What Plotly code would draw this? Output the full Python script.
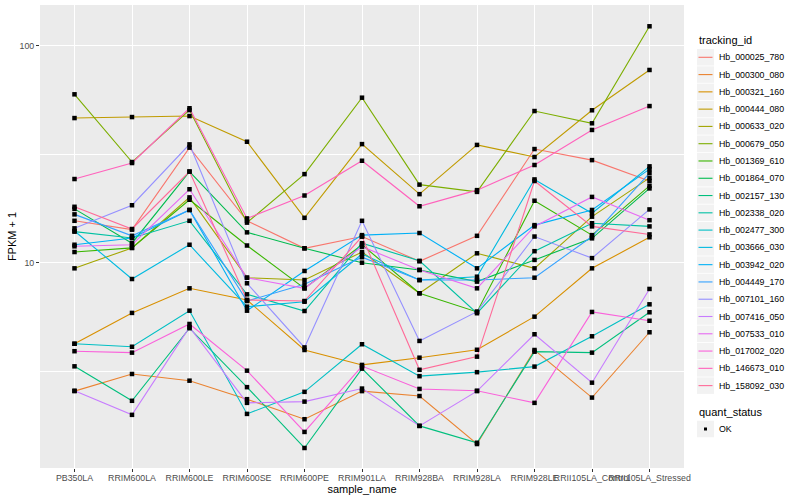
import math
import plotly.graph_objects as go

samples = ["PB350LA", "RRIM600LA", "RRIM600LE", "RRIM600SE", "RRIM600PE", "RRIM901LA",
           "RRIM928BA", "RRIM928LA", "RRIM928LE", "RRII105LA_Control", "RRII105LA_Stressed"]

ids = ["Hb_000025_780", "Hb_000300_080", "Hb_000321_160", "Hb_000444_080", "Hb_000633_020",
       "Hb_000679_050", "Hb_001369_610", "Hb_001864_070", "Hb_002157_130", "Hb_002338_020",
       "Hb_002477_300", "Hb_003666_030", "Hb_003942_020", "Hb_004449_170", "Hb_007101_160",
       "Hb_007416_050", "Hb_007533_010", "Hb_017002_020", "Hb_146673_010", "Hb_158092_030"]

Hb_000025_780 = [15.6, 14.2, 33.9, 15.6, 11.65, 13.2, 10.15, 13.3, 33.4, 29.7, 23.8]
Hb_000300_080 = [2.56, 3.07, 2.86, 2.35, 1.90, 2.56, 2.43, 1.46, 3.96, 2.39, 4.78]
Hb_000321_160 = [4.23, 5.87, 7.62, 6.73, 3.96, 3.38, 3.65, 3.97, 5.64, 9.42, 13.1]
Hb_000444_080 = [46.4, 46.9, 47.4, 36.1, 16.1, 35.2, 20.7, 34.9, 30.7, 50.4, 77.3]
Hb_000633_020 = [9.42, 11.7, 20.0, 8.53, 8.32, 11.2, 7.23, 11.05, 9.42, 16.3, 24.6]
Hb_000679_050 = [59.7, 29.1, 50.5, 15.3, 25.6, 57.6, 22.9, 21.2, 50.0, 43.9, 122.9]
Hb_001369_610 = [11.2, 11.7, 19.5, 12.0, 7.62, 12.1, 7.23, 5.93, 19.3, 13.4, 22.6]
Hb_001864_070 = [17.7, 12.3, 26.3, 13.8, 11.65, 10.0, 9.26, 8.18, 10.3, 12.95, 22.0]
Hb_002157_130 = [3.33, 2.31, 4.99, 2.67, 1.40, 3.25, 1.77, 1.48, 3.89, 3.85, 5.91]
Hb_002338_020 = [13.9, 13.0, 15.6, 7.15, 5.99, 12.3, 10.2, 5.85, 11.3, 15.2, 14.7]
Hb_002477_300 = [4.23, 4.10, 6.01, 2.01, 2.54, 4.21, 3.00, 3.13, 3.32, 4.58, 6.43]
Hb_003666_030 = [14.0, 8.41, 12.1, 6.27, 6.61, 10.97, 8.32, 8.62, 24.2, 16.9, 27.8]
Hb_003942_020 = [12.1, 13.0, 17.5, 6.01, 9.16, 13.4, 13.7, 9.42, 14.9, 17.5, 27.0]
Hb_004449_170 = [16.7, 13.3, 17.5, 6.66, 7.95, 10.6, 8.32, 8.32, 8.53, 13.2, 25.9]
Hb_007101_160 = [14.4, 18.4, 35.1, 8.04, 4.07, 15.6, 4.36, 5.95, 13.2, 10.5, 17.6]
Hb_007416_050 = [2.57, 1.99, 5.04, 2.26, 2.29, 2.63, 1.77, 2.56, 4.68, 2.80, 7.57]
Hb_007533_010 = [11.9, 12.1, 21.8, 8.53, 7.62, 11.85, 9.26, 7.62, 14.7, 20.1, 15.7]
Hb_017002_020 = [3.91, 3.85, 5.22, 3.18, 1.66, 3.34, 2.62, 2.57, 2.26, 5.93, 5.40]
Hb_146673_010 = [24.3, 28.8, 51.5, 16.0, 20.4, 29.5, 18.2, 21.6, 28.2, 40.9, 52.7]
Hb_158092_030 = [18.1, 14.3, 26.3, 6.73, 6.66, 13.2, 3.21, 3.69, 23.8, 14.7, 13.5]

series = [Hb_000025_780, Hb_000300_080, Hb_000321_160, Hb_000444_080, Hb_000633_020,
          Hb_000679_050, Hb_001369_610, Hb_001864_070, Hb_002157_130, Hb_002338_020,
          Hb_002477_300, Hb_003666_030, Hb_003942_020, Hb_004449_170, Hb_007101_160,
          Hb_007416_050, Hb_007533_010, Hb_017002_020, Hb_146673_010, Hb_158092_030]

status_levels = ["OK"]
y_ticks = [10, 100]
y_minor = [10 ** 0.5, 10 ** 1.5]


def hcl_hex(h, c, l):
    Xn, Yn, Zn = 95.047, 100.0, 108.883
    un = 4 * Xn / (Xn + 15 * Yn + 3 * Zn)
    vn = 9 * Yn / (Xn + 15 * Yn + 3 * Zn)
    u = c * math.cos(math.radians(h))
    v = c * math.sin(math.radians(h))
    Y = Yn * (((l + 16) / 116) ** 3 if l > 8 else l / 903.3)
    up = u / (13 * l) + un
    vp = v / (13 * l) + vn
    X = Y * 9 * up / (4 * vp)
    Z = Y * (12 - 3 * up - 20 * vp) / (4 * vp)
    X, Y, Z = X / 100, Y / 100, Z / 100
    r = 3.2404542 * X - 1.5371385 * Y - 0.4985314 * Z
    g = -0.9692660 * X + 1.8760108 * Y + 0.0415560 * Z
    b = 0.0556434 * X - 0.2040259 * Y + 1.0572252 * Z

    def gam(t):
        t = 1.055 * t ** (1 / 2.4) - 0.055 if t > 0.0031308 else 12.92 * t
        return max(0, min(255, round(t * 255)))
    return "#%02X%02X%02X" % (gam(r), gam(g), gam(b))


n = len(ids)
colors = [hcl_hex(15 + i * (342 / (n - 1)), 100, 65) for i in range(n)]

# layout geometry (pixels)
W, H = 800, 500
ML, MR, MT, MB = 40, 116, 5, 32
PW, PH = W - ML - MR, H - MT - MB


def px(xp):
    return (xp - ML) / PW


def py(yp):
    return (H - MB - yp) / PH


fig = go.Figure()
for name, vals, col in zip(ids, series, colors):
    fig.add_trace(go.Scatter(x=samples, y=vals, mode="lines", name=name,
                             line=dict(color=col, width=1.1), showlegend=False))

allx, ally = [], []
for vals in series:
    allx += samples
    ally += vals
fig.add_trace(go.Scatter(x=allx, y=ally, mode="markers", name=status_levels[0],
                         marker=dict(color="black", symbol="square", size=4.5),
                         showlegend=False))

# manual ggplot-style legend
shapes, annots = [], []
key_x0, key_x1, text_x = 697, 714, 717
annots.append(dict(x=px(key_x0), y=py(40), xref="paper", yref="paper", text="tracking_id",
                   showarrow=False, xanchor="left", yanchor="middle",
                   font=dict(size=11, color="black")))
step = 17.28
for i, (name, col) in enumerate(zip(ids, colors)):
    yc = 57.3 + i * step
    shapes.append(dict(type="rect", xref="paper", yref="paper", x0=px(key_x0), x1=px(key_x1),
                       y0=py(yc - step / 2 + 0.4), y1=py(yc + step / 2 - 0.4),
                       fillcolor="#F2F2F2", line=dict(width=0), layer="above"))
    shapes.append(dict(type="line", xref="paper", yref="paper", x0=px(key_x0 + 1.5),
                       x1=px(key_x1 - 1.5), y0=py(yc), y1=py(yc),
                       line=dict(color=col, width=1.1), layer="above"))
    annots.append(dict(x=px(text_x), y=py(yc), xref="paper", yref="paper", text=name,
                       showarrow=False, xanchor="left", yanchor="middle",
                       font=dict(size=8.8, color="black")))

annots.append(dict(x=px(key_x0), y=py(412), xref="paper", yref="paper", text="quant_status",
                   showarrow=False, xanchor="left", yanchor="middle",
                   font=dict(size=11, color="black")))
yc = 429
shapes.append(dict(type="rect", xref="paper", yref="paper", x0=px(key_x0), x1=px(key_x1),
                   y0=py(yc - step / 2 + 0.4), y1=py(yc + step / 2 - 0.4),
                   fillcolor="#F2F2F2", line=dict(width=0), layer="above"))
shapes.append(dict(type="rect", xref="paper", yref="paper", x0=px(704), x1=px(707),
                   y0=py(yc - 1.5), y1=py(yc + 1.5), fillcolor="black",
                   line=dict(width=0), layer="above"))
annots.append(dict(x=px(text_x), y=py(yc), xref="paper", yref="paper", text=status_levels[0],
                   showarrow=False, xanchor="left", yanchor="middle",
                   font=dict(size=8.8, color="black")))

fig.update_layout(
    width=W, height=H,
    margin=dict(l=ML, r=MR, t=MT, b=MB),
    paper_bgcolor="white", plot_bgcolor="#EBEBEB",
    font=dict(family="Liberation Sans, Arial, sans-serif", color="black"),
    showlegend=False,
    shapes=shapes, annotations=annots,
    xaxis=dict(type="category", categoryorder="array", categoryarray=samples,
               range=[-0.6, len(samples) - 0.4], showgrid=True, gridcolor="white",
               gridwidth=1, zeroline=False, tickangle=0, ticks="outside", ticklen=3,
               tickcolor="#333333", tickfont=dict(size=8.8, color="#4D4D4D"),
               automargin=False, ticklabelstandoff=-2,
               title=dict(text="sample_name", font=dict(size=11), standoff=0)),
    yaxis=dict(type="log", range=[0.0539, 2.1876], tickvals=y_ticks,
               ticktext=[str(t) for t in y_ticks], showgrid=True, gridcolor="white",
               gridwidth=1, zeroline=False, ticks="outside", ticklen=3,
               tickcolor="#333333", tickfont=dict(size=8.8, color="#4D4D4D"),
               automargin=False,
               minor=dict(tickvals=y_minor, showgrid=True, gridcolor="white",
                          gridwidth=0.5, ticks=""),
               title=dict(text="FPKM + 1", font=dict(size=11), standoff=0)),
)

fig.write_html("out.html", config={"displayModeBar": False},
               post_script="document.body.style.margin='0';")
